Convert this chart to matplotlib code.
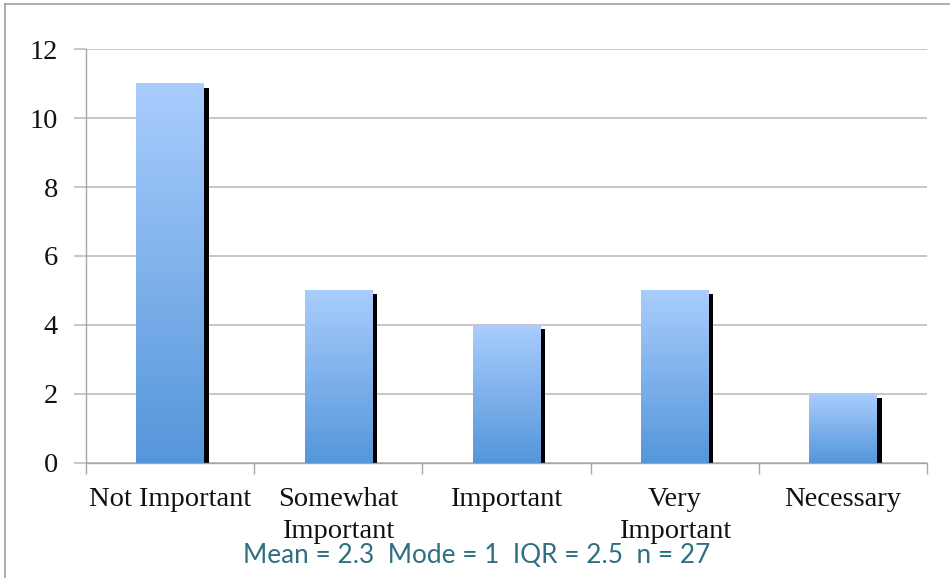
import numpy as np
import matplotlib
matplotlib.use("Agg")
import matplotlib.pyplot as plt
from matplotlib.colors import LinearSegmentedColormap
from matplotlib.patches import Rectangle
from matplotlib.lines import Line2D
import matplotlib.transforms as mtransforms

categories = ["Not Important", "Somewhat\nImportant", "Important", "Very\nImportant", "Necessary"]
counts = [11, 5, 4, 5, 2]
y_ticks = [0, 2, 4, 6, 8, 10, 12]
summary = "Mean = 2.3  Mode = 1  IQR = 2.5  n = 27"

fig = plt.figure(figsize=(9.5, 5.78), dpi=100)
ax = fig.add_axes([0.0905, 0.199, 0.8853, 0.7162])

grad_cmap = LinearSegmentedColormap.from_list("bar_grad", ["#5596DA", "#A9CDFD"])
grad = np.linspace(0, 1, 256).reshape(-1, 1)
bar_w = 0.40
shadow_shift = mtransforms.ScaledTranslation(5 / 100, -4 / 100, fig.dpi_scale_trans)

x = np.arange(len(categories))
for xi, v in zip(x, counts):
    x0, x1 = xi - bar_w / 2, xi + bar_w / 2
    shadow = Rectangle((x0, 0), bar_w, v, facecolor="black", edgecolor="none",
                       transform=ax.transData + shadow_shift, zorder=2)
    ax.add_patch(shadow)
    ax.imshow(grad, cmap=grad_cmap, extent=(x0, x1, 0, v), origin="lower",
              aspect="auto", zorder=3, interpolation="bilinear")

ax.set_xlim(-0.5, len(categories) - 0.5)
ax.set_ylim(0, 12)
ax.set_yticks(y_ticks)
ax.set_yticklabels([str(t) for t in y_ticks])
ax.yaxis.grid(True, color="#BEBEBE", linewidth=1.2, zorder=0)
ax.set_axisbelow(True)

ax.set_xticks(x)
ax.set_xticklabels(categories, linespacing=1.36)
ax.set_xticks(np.arange(len(categories) + 1) - 0.5, minor=True)
ax.tick_params(axis="x", which="major", length=0, pad=17.5)
ax.tick_params(axis="x", which="minor", length=8, color="#A6A6A6", width=1)
ax.tick_params(axis="y", length=9, color="#BEBEBE", width=1.2, pad=11)

for lbl in ax.get_xticklabels() + ax.get_yticklabels():
    lbl.set_fontfamily("Liberation Serif")
    lbl.set_fontsize(20.5)
    lbl.set_color("#111111")

for side in ["top", "right"]:
    ax.spines[side].set_visible(False)
ax.spines["left"].set_color("#A6A6A6")
ax.spines["bottom"].set_color("#A6A6A6")
ax.spines["left"].set_linewidth(1)
ax.spines["bottom"].set_linewidth(1)

fig.text(0.502, 0.018, summary, ha="center", va="bottom", fontsize=18.8,
         family="Lato", color="#2F6F82")

# outer frame lines along the top and left edges
fig.add_artist(Line2D([5 / 950, 1], [1 - 4 / 578, 1 - 4 / 578],
                      transform=fig.transFigure, color="#A0A0A0", linewidth=1.2))
fig.add_artist(Line2D([5 / 950, 5 / 950], [0, 1 - 4 / 578],
                      transform=fig.transFigure, color="#A0A0A0", linewidth=1.2))

fig.savefig("out.png", dpi=100)
